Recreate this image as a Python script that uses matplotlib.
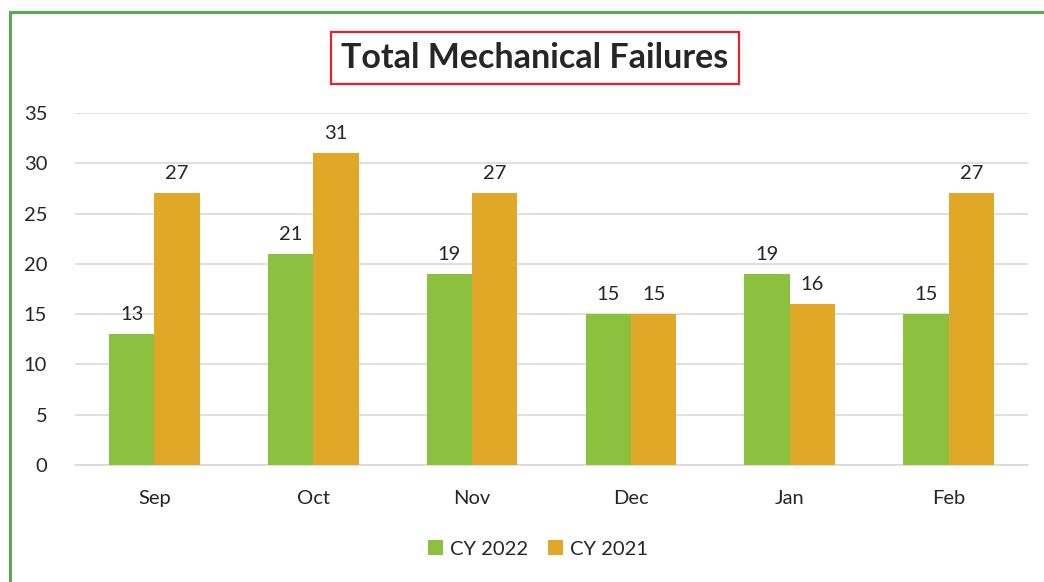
import numpy as np
import matplotlib.pyplot as plt
from matplotlib.patches import Rectangle

months = ['Sep', 'Oct', 'Nov', 'Dec', 'Jan', 'Feb']
cy2022 = [13, 21, 19, 15, 19, 15]
cy2021 = [27, 31, 27, 15, 16, 27]
yticks = [0, 5, 10, 15, 20, 25, 30, 35]

green = '#8bc13f'
orange = '#e0a826'
text_col = '#262626'

plt.rcParams['font.family'] = ['Lato', 'DejaVu Sans']

W, H = 1044, 582
fig = plt.figure(figsize=(W / 100, H / 100), dpi=100)
ax = fig.add_axes([75 / W, 1 - 465 / H, 953 / W, (465 - 113) / H])

x = np.arange(len(months))
bw = 0.285
b1 = ax.bar(x - bw / 2, cy2022, bw, color=green, label='CY 2022', zorder=3)
b2 = ax.bar(x + bw / 2, cy2021, bw, color=orange, label='CY 2021', zorder=3)

for bars in (b1, b2):
    for rect in bars:
        v = rect.get_height()
        ax.annotate(str(v), (rect.get_x() + rect.get_width() / 2, v),
                    xytext=(0, 8), textcoords='offset points',
                    ha='center', va='bottom', fontsize=14.5, color=text_col)

ax.set_xlim(-0.5, len(months) - 0.5)
ax.set_ylim(0, 35)
ax.set_yticks(yticks)
ax.set_xticks(x)
ax.set_xticklabels(months)
ax.tick_params(axis='both', length=0, labelsize=14.5, colors=text_col)
ax.tick_params(axis='y', pad=20)
ax.tick_params(axis='x', pad=18)
ax.yaxis.grid(True, color='#d9d9d9', linewidth=1.2, zorder=0)
for s in ['top', 'right', 'left']:
    ax.spines[s].set_visible(False)
ax.spines['bottom'].set_color('#d9d9d9')
ax.spines['bottom'].set_linewidth(1.2)

fig.text(535 / W, 1 - 58 / H, 'Total Mechanical Failures', ha='center', va='center',
         fontsize=24.5, fontweight='bold', color=text_col,
         bbox=dict(boxstyle='square,pad=0.3', fc='white', ec='#e8202a', lw=1.6))

fig.legend(handles=[b1, b2], loc='center', bbox_to_anchor=(538 / W, 1 - 549 / H),
           ncol=2, frameon=False, fontsize=14.5, handlelength=0.75, handleheight=0.75,
           columnspacing=1.0, handletextpad=0.35, labelcolor=text_col)

# green outer border, running off right and bottom edges
fig.patches.append(Rectangle((10 / W, -0.1), 1.2, 1 - 12 / H + 0.1,
                             transform=fig.transFigure, fill=False,
                             edgecolor='#5aaa50', linewidth=2.2))

fig.savefig('out.png', dpi=100)
